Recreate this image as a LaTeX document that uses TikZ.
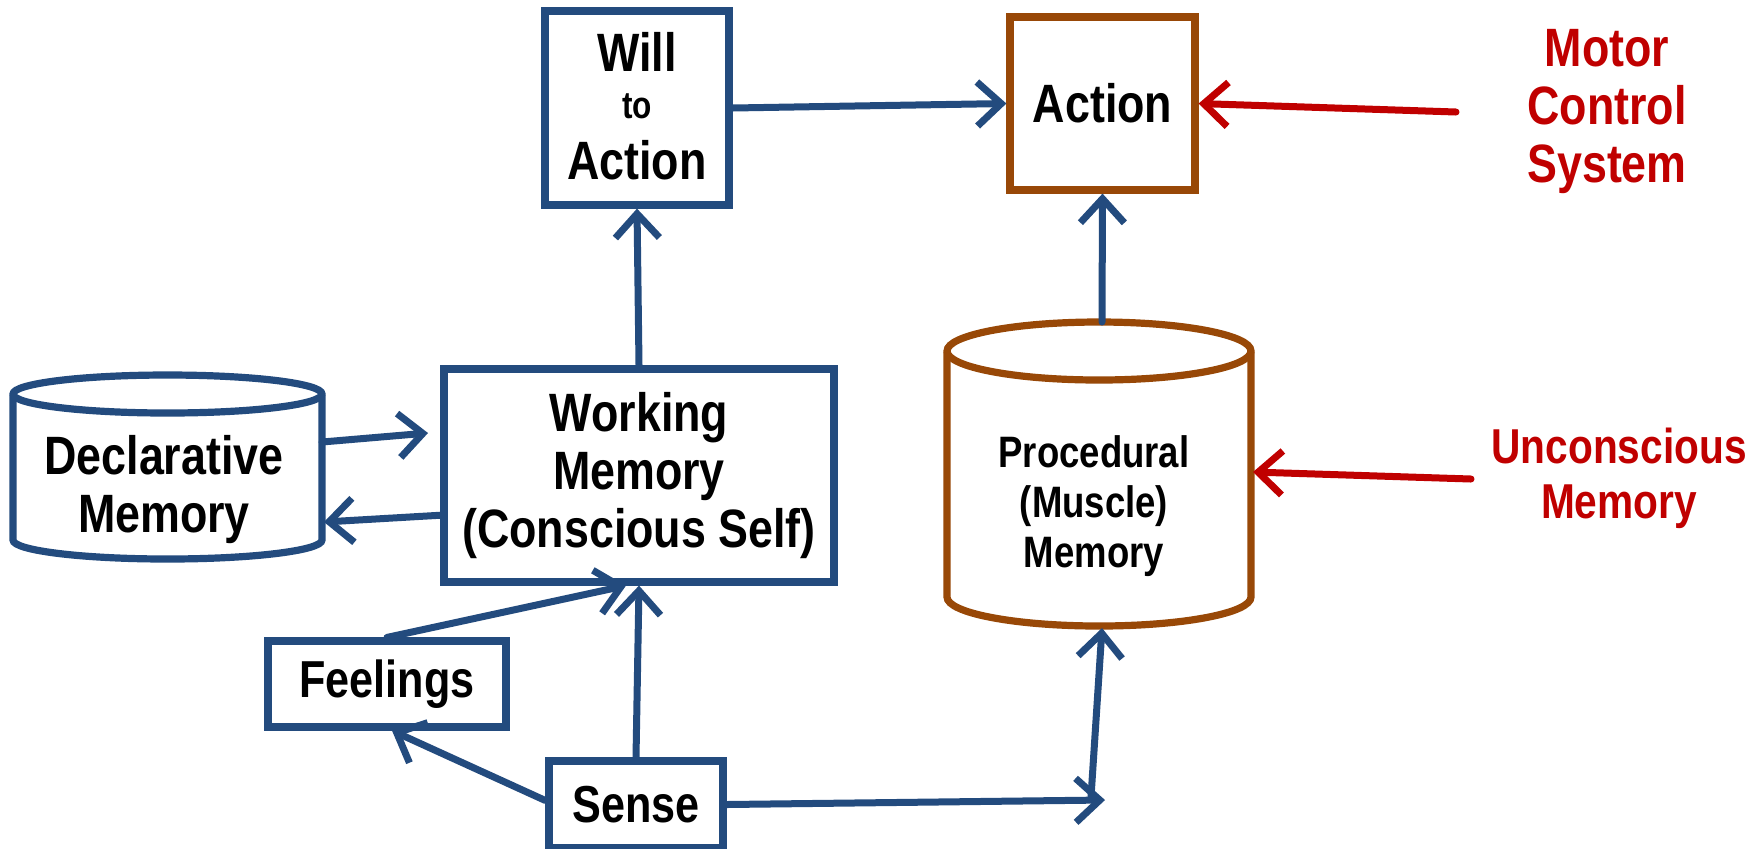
\documentclass[tikz,border=0pt]{standalone}
\usepackage{fontspec}
\setmainfont{Liberation Sans}[FakeStretch=0.83]
\usetikzlibrary{arrows.meta,calc}
\definecolor{dblue}{HTML}{234B7E}
\definecolor{dbrown}{HTML}{984807}
\definecolor{dred}{HTML}{C00000}
\begin{document}
\begin{tikzpicture}[x=0.5pt,y=-0.5pt,
  box/.style={draw=dblue,line width=3.6pt,fill=white,inner sep=0pt,align=center,font=\bfseries\fontsize{27}{29}\selectfont},
  bbox/.style={box,draw=dbrown},
  conn/.style={draw=dblue,line width=3.5pt,line cap=round,-{Straight Barb[length=12pt,width=22pt]}},
  rconn/.style={conn,draw=dred},
  txt/.style={align=center,inner sep=0pt,font=\bfseries\fontsize{27}{29}\selectfont}]
\useasboundingbox (0,0) rectangle (1754,848);

% Declarative memory cylinder
\draw[dblue,line width=3.6pt,fill=white] (13,394) -- (13,540)
  arc[start angle=180,end angle=0,x radius=154.5,y radius=19] -- (322,394)
  arc[start angle=0,end angle=-180,x radius=154.5,y radius=19] -- cycle;
\draw[dblue,line width=3.6pt] (13,394) arc[start angle=180,end angle=0,x radius=154.5,y radius=19];
\node[txt] (decl) at (164,490) {Declarative\\Memory};

% Procedural memory cylinder
\draw[dbrown,line width=3.6pt,fill=white] (947,351) -- (947,597)
  arc[start angle=180,end angle=0,x radius=152,y radius=29] -- (1251,351)
  arc[start angle=0,end angle=-180,x radius=152,y radius=29] -- cycle;
\draw[dbrown,line width=3.6pt] (947,351) arc[start angle=180,end angle=0,x radius=152,y radius=29];
\node[txt,font=\bfseries\fontsize{22}{25}\selectfont] (proc) at (1094,506) {Procedural\\(Muscle)\\Memory};

% Boxes
\node[box,minimum width=92pt,minimum height=97pt] (will) at (637,108) {};
\node[txt] (willa) at (637,52) {Will};
\node[txt,font=\bfseries\fontsize{19}{20}\selectfont] (willb) at (637,106) {to};
\node[txt] (willc) at (637,160) {Action};

\node[bbox,minimum width=92.5pt,minimum height=86.5pt] (act) at (1102.5,103.5) {Action};

\node[box,minimum width=195pt,minimum height=106.5pt] (wm) at (639,475.5) {Working\\Memory\\(Conscious Self)};

\node[box,minimum width=119pt,minimum height=43pt,font=\bfseries\fontsize{26}{28}\selectfont] (feel) at (387,684) {Feelings};
\node[box,minimum width=87pt,minimum height=43.5pt,font=\bfseries\fontsize{26}{28}\selectfont] (sense) at (636,804.5) {Sense};

% Red labels
\node[txt,text=dred,font=\bfseries\fontsize{27}{29}\selectfont] (motor) at (1607,112) {Motor\\Control\\System};
\node[txt,text=dred,font=\bfseries\fontsize{24.5}{27.5}\selectfont] (uncon) at (1619,478) {Unconscious\\Memory};

% Coordinates
\coordinate (declA) at (322,442);
\coordinate (wmA) at (428,433);
\coordinate (wmB) at (444,515);
\coordinate (declB) at (324,522);
\coordinate (proctop) at (1102,322);
\coordinate (procbot) at (1102,628);
\coordinate (procright) at (1253,472);
\coordinate (junc) at (1105,800);
\coordinate (jup) at (1091,797);
\coordinate (motorend) at (1456,112);
\coordinate (uncend) at (1471,479);

% Connectors
\draw[conn] (declA) -- (wmA);
\draw[conn] (wmB) -- (declB);
\draw[conn] (wm.north) -- (will.south);
\draw[conn] (will.east) -- (act.west);
\draw[conn] (proctop) -- (act.south);
\draw[conn] (sense.north) -- (wm.south);
\draw[conn] (feel.north) -- ($(wm.south)+(-13,0)$);
\draw[conn] ($(sense.west)+(0,-4)$) -- ($(feel.south)+(5,0)$);
\draw[conn] (sense.east) -- (junc);
\draw[conn] (jup) -- (procbot);
\draw[rconn] (motorend) -- (act.east);
\draw[rconn] (uncend) -- (procright);
\end{tikzpicture}
\end{document}
